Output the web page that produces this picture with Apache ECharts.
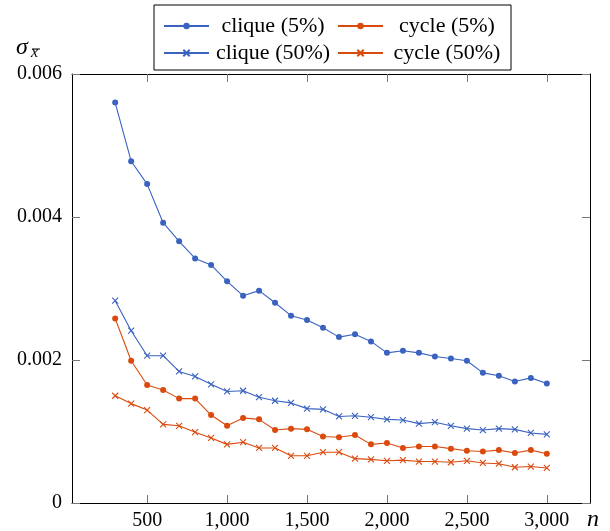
<!DOCTYPE html>
<html>
<head>
<meta charset="utf-8">
<script src="https://cdn.jsdelivr.net/npm/echarts@6/dist/echarts.min.js"></script>
<style>
  html, body { margin: 0; padding: 0; background: #fff; }
  #chart { width: 610px; height: 531px; }
</style>
</head>
<body>
<div id="chart"></div>
<script>
  // sample sizes n
  const nValues = [300, 400, 500, 600, 700, 800, 900, 1000, 1100, 1200, 1300, 1400, 1500, 1600,
    1700, 1800, 1900, 2000, 2100, 2200, 2300, 2400, 2500, 2600, 2700, 2800, 2900, 3000];

  const cliqueFive = [0.00560, 0.00478, 0.00446, 0.00392, 0.00366, 0.00342, 0.00333, 0.00310, 0.00290, 0.00297,
    0.00280, 0.00262, 0.00256, 0.00245, 0.00232, 0.00236, 0.00226, 0.00210, 0.00213, 0.00210,
    0.00205, 0.00202, 0.00199, 0.00182, 0.00178, 0.00170, 0.00175, 0.00167];
  const cycleFive = [0.00258, 0.00199, 0.00165, 0.00158, 0.00146, 0.00146, 0.00123, 0.00108, 0.00119, 0.00117,
    0.00102, 0.00104, 0.00103, 0.00093, 0.00092, 0.00095, 0.00082, 0.00084, 0.00077, 0.00079,
    0.00079, 0.00076, 0.00073, 0.00072, 0.00074, 0.00070, 0.00074, 0.00069];
  const cliqueFifty = [0.00283, 0.00241, 0.00206, 0.00206, 0.00184, 0.00177, 0.00166, 0.00156, 0.00157, 0.00148,
    0.00143, 0.00140, 0.00132, 0.00131, 0.00121, 0.00122, 0.00120, 0.00117, 0.00116, 0.00111,
    0.00113, 0.00108, 0.00104, 0.00102, 0.00104, 0.00103, 0.00098, 0.00096];
  const cycleFifty = [0.00150, 0.00139, 0.00130, 0.00110, 0.00108, 0.00099, 0.00091, 0.00082, 0.00085, 0.00077,
    0.00077, 0.00066, 0.00066, 0.00071, 0.00071, 0.00062, 0.00061, 0.00059, 0.00060, 0.00058,
    0.00058, 0.00057, 0.00059, 0.00056, 0.00055, 0.00050, 0.00051, 0.00049];

  const xTicks = [500, 1000, 1500, 2000, 2500, 3000];

  const blue = '#3a62c0';
  const red = '#db4a0d';
  const font = 'Liberation Serif';
  const cross = 'path://M0,0L10,10M0,10L10,0';

  function pairs(arr) {
    return nValues.map((n, i) => [n, arr[i]]);
  }

  function makeSeries(name, arr, color, isCross) {
    return {
      name: name,
      type: 'line',
      data: pairs(arr),
      symbol: isCross ? cross : 'circle',
      symbolSize: 6,
      showAllSymbol: true,
      lineStyle: { color: color, width: 1.1 },
      itemStyle: isCross
        ? { color: 'rgba(0,0,0,0)', borderColor: color, borderWidth: 1.1 }
        : { color: color, borderWidth: 0 },
      emphasis: { disabled: true },
      animation: false
    };
  }

  const myChart = echarts.init(document.getElementById('chart'));

  const tickStyle = { show: true, inside: true, length: 8, lineStyle: { color: '#777', width: 1 } };

  const options = {
    backgroundColor: '#fff',
    grid: { left: 72, right: 20, top: 74, bottom: 28 },
    legend: {
      left: 154,
      top: 5,
      width: 352,
      padding: [10, 5, 6, 9],
      itemGap: 5,
      itemWidth: 45,
      itemHeight: 8,
      borderColor: '#000',
      borderWidth: 1,
      data: ['clique (5%)', 'cycle (5%)', 'clique (50%)', 'cycle (50%)'],
      formatter: '{t|{name}}',
      textStyle: {
        rich: {
          t: { width: 118, align: 'center', fontFamily: font, fontSize: 22, color: '#000', lineHeight: 26 }
        }
      },
      selectedMode: false
    },
    xAxis: [{
      type: 'value',
      min: 30,
      max: 3270,
      axisLine: { show: true, lineStyle: { color: '#000', width: 1 } },
      axisTick: Object.assign({ customValues: xTicks }, tickStyle),
      axisLabel: {
        customValues: xTicks,
        fontFamily: font,
        fontSize: 20,
        color: '#000',
        margin: 8,
        formatter: v => v.toLocaleString('en-US')
      },
      splitLine: { show: false }
    }, {
      type: 'value',
      position: 'top',
      min: 30,
      max: 3270,
      axisLine: { show: true, onZero: false, lineStyle: { color: '#000', width: 1 } },
      axisTick: Object.assign({ customValues: xTicks }, tickStyle),
      axisLabel: { show: false },
      splitLine: { show: false }
    }],
    yAxis: [{
      type: 'value',
      min: 0,
      max: 0.006,
      interval: 0.002,
      axisLine: { show: true, lineStyle: { color: '#000', width: 1 } },
      axisTick: tickStyle,
      axisLabel: { fontFamily: font, fontSize: 20, color: '#000', margin: 10 },
      splitLine: { show: false }
    }, {
      type: 'value',
      position: 'right',
      min: 0,
      max: 0.006,
      interval: 0.002,
      axisLine: { show: true, onZero: false, lineStyle: { color: '#000', width: 1 } },
      axisTick: tickStyle,
      axisLabel: { show: false },
      splitLine: { show: false }
    }],
    graphic: [{
      type: 'text',
      left: 16,
      top: 36,
      style: { text: 'σ', fontFamily: font, fontStyle: 'italic', fontSize: 24, fill: '#000' }
    }, {
      type: 'text',
      left: 31,
      top: 45,
      style: { text: 'x', fontFamily: font, fontStyle: 'italic', fontSize: 16, fill: '#000' }
    }, {
      type: 'line',
      shape: { x1: 32, y1: 49, x2: 40, y2: 49 },
      style: { stroke: '#000', lineWidth: 1 }
    }, {
      type: 'text',
      left: 587,
      top: 508,
      style: { text: 'n', fontFamily: font, fontStyle: 'italic', fontSize: 24, fill: '#000' }
    }],
    series: [
      makeSeries('clique (5%)', cliqueFive, blue, false),
      makeSeries('cycle (5%)', cycleFive, red, false),
      makeSeries('clique (50%)', cliqueFifty, blue, true),
      makeSeries('cycle (50%)', cycleFifty, red, true)
    ]
  };

  myChart.setOption(options);
</script>
</body>
</html>
